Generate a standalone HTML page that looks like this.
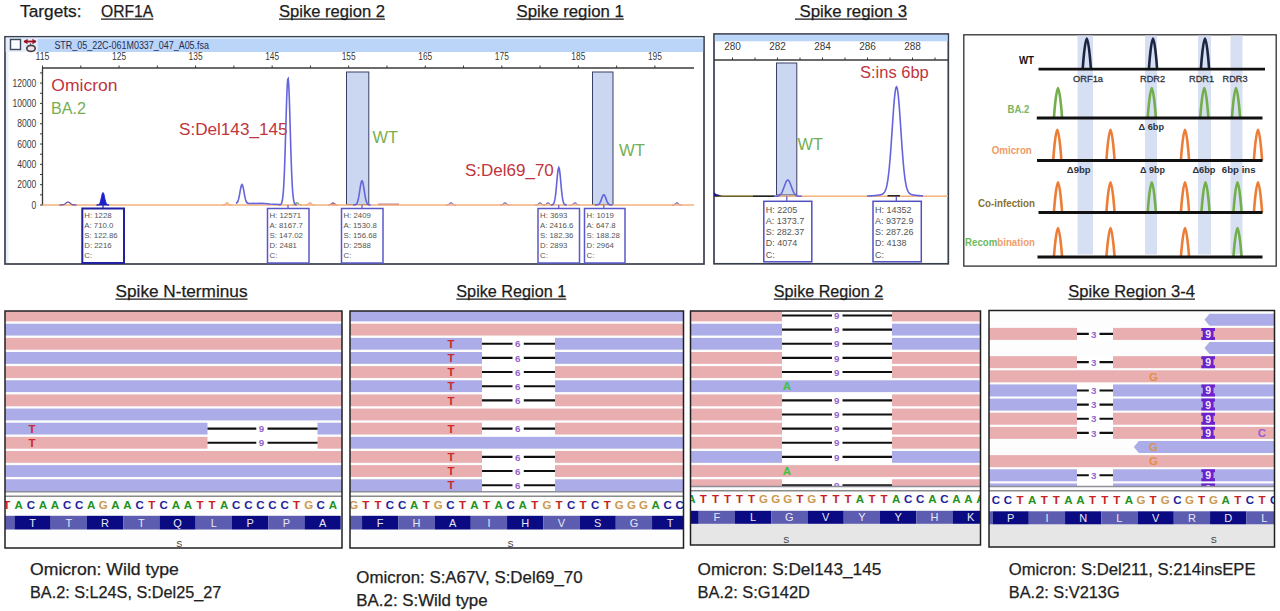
<!DOCTYPE html>
<html><head><meta charset="utf-8"><style>
html,body{margin:0;padding:0;background:#fff;width:1280px;height:611px;overflow:hidden}
svg{display:block;font-family:"Liberation Sans",sans-serif}
</style></head><body>
<svg width="1280" height="611" viewBox="0 0 1280 611">
<text x="20.00" y="17.00" font-size="17.2" fill="#1c1c1c" textLength="61.50" lengthAdjust="spacingAndGlyphs" stroke="#1c1c1c" stroke-width="0.25">Targets:</text>
<text x="101.00" y="17.00" font-size="17.2" fill="#1c1c1c" textLength="52.30" lengthAdjust="spacingAndGlyphs" stroke="#1c1c1c" stroke-width="0.25">ORF1A</text>
<line x1="101.00" y1="19.20" x2="153.30" y2="19.20" stroke="#1c1c1c" stroke-width="1.2"/>
<text x="279.00" y="17.00" font-size="17.2" fill="#1c1c1c" textLength="106.00" lengthAdjust="spacingAndGlyphs" stroke="#1c1c1c" stroke-width="0.25">Spike region 2</text>
<line x1="279.00" y1="19.20" x2="385.00" y2="19.20" stroke="#1c1c1c" stroke-width="1.2"/>
<text x="516.50" y="17.00" font-size="17.2" fill="#1c1c1c" textLength="107.30" lengthAdjust="spacingAndGlyphs" stroke="#1c1c1c" stroke-width="0.25">Spike region 1</text>
<line x1="516.50" y1="19.20" x2="623.80" y2="19.20" stroke="#1c1c1c" stroke-width="1.2"/>
<text x="799.50" y="17.00" font-size="17.2" fill="#1c1c1c" textLength="107.50" lengthAdjust="spacingAndGlyphs" stroke="#1c1c1c" stroke-width="0.25">Spike region 3</text>
<line x1="795.00" y1="19.20" x2="907.00" y2="19.20" stroke="#1c1c1c" stroke-width="1.2"/>
<text x="115.50" y="297.00" font-size="17.2" fill="#1c1c1c" textLength="132.00" lengthAdjust="spacingAndGlyphs" stroke="#1c1c1c" stroke-width="0.25">Spike N-terminus</text>
<line x1="115.50" y1="299.20" x2="247.50" y2="299.20" stroke="#1c1c1c" stroke-width="1.2"/>
<text x="456.30" y="297.00" font-size="17.2" fill="#1c1c1c" textLength="110.00" lengthAdjust="spacingAndGlyphs" stroke="#1c1c1c" stroke-width="0.25">Spike Region 1</text>
<line x1="456.30" y1="299.20" x2="566.30" y2="299.20" stroke="#1c1c1c" stroke-width="1.2"/>
<text x="773.80" y="297.00" font-size="17.2" fill="#1c1c1c" textLength="109.50" lengthAdjust="spacingAndGlyphs" stroke="#1c1c1c" stroke-width="0.25">Spike Region 2</text>
<line x1="773.80" y1="299.20" x2="883.30" y2="299.20" stroke="#1c1c1c" stroke-width="1.2"/>
<text x="1068.30" y="297.00" font-size="17.2" fill="#1c1c1c" textLength="126.70" lengthAdjust="spacingAndGlyphs" stroke="#1c1c1c" stroke-width="0.25">Spike Region 3-4</text>
<line x1="1068.30" y1="299.20" x2="1195.00" y2="299.20" stroke="#1c1c1c" stroke-width="1.2"/>
<text x="30.00" y="575.00" font-size="16.3" fill="#222222" textLength="148.80" lengthAdjust="spacingAndGlyphs" stroke="#222" stroke-width="0.25">Omicron: Wild type</text>
<text x="30.00" y="598.00" font-size="16.3" fill="#222222" textLength="191.30" lengthAdjust="spacingAndGlyphs" stroke="#222" stroke-width="0.25">BA.2: S:L24S, S:Del25_27</text>
<text x="356.30" y="582.50" font-size="16.3" fill="#222222" textLength="226.30" lengthAdjust="spacingAndGlyphs" stroke="#222" stroke-width="0.25">Omicron: S:A67V, S:Del69_70</text>
<text x="356.30" y="605.50" font-size="16.3" fill="#222222" textLength="131.30" lengthAdjust="spacingAndGlyphs" stroke="#222" stroke-width="0.25">BA.2: S:Wild type</text>
<text x="697.50" y="575.00" font-size="16.3" fill="#222222" textLength="183.80" lengthAdjust="spacingAndGlyphs" stroke="#222" stroke-width="0.25">Omicron: S:Del143_145</text>
<text x="697.50" y="598.00" font-size="16.3" fill="#222222" textLength="112.50" lengthAdjust="spacingAndGlyphs" stroke="#222" stroke-width="0.25">BA.2: S:G142D</text>
<text x="1008.80" y="575.00" font-size="16.3" fill="#222222" textLength="246.80" lengthAdjust="spacingAndGlyphs" stroke="#222" stroke-width="0.25">Omicron: S:Del211, S:214insEPE</text>
<text x="1008.80" y="598.00" font-size="16.3" fill="#222222" textLength="110.80" lengthAdjust="spacingAndGlyphs" stroke="#222" stroke-width="0.25">BA.2: S:V213G</text>
<rect x="5.00" y="36.80" width="699.00" height="227.20" fill="#ffffff" stroke="#3a3f4c" stroke-width="1.7"/>
<rect x="6.00" y="52.00" width="2.50" height="211.00" fill="#eaf0fa"/>
<rect x="5.80" y="37.60" width="697.40" height="14.40" fill="#bad5f8"/>
<rect x="5.80" y="37.60" width="697.40" height="1.40" fill="#dce8fb"/>
<rect x="5.80" y="39.00" width="32.00" height="13.00" fill="#e6eefa"/>
<rect x="10.50" y="39.50" width="10.00" height="10.00" fill="#f8fbff" stroke="#3e4a5a" stroke-width="1.4"/>
<path d="M24,41.5 L36,41.5" stroke="#9a1020" stroke-width="1.8"/>
<path d="M23.5,41.5 L27.5,38.8 L27.5,44.2 Z M36.5,41.5 L32.5,38.8 L32.5,44.2 Z" fill="#9a1020"/>
<line x1="30.50" y1="43.00" x2="30.50" y2="45.50" stroke="#8a7070" stroke-width="1"/>
<ellipse cx="31" cy="48.4" rx="4.2" ry="3.0" fill="#f2e4ea" stroke="#454545" stroke-width="1.7"/>
<text x="54.40" y="48.50" font-size="10" fill="#1e2d55" textLength="154.60" lengthAdjust="spacingAndGlyphs">STR_05_22C-061M0337_047_A05.fsa</text>
<line x1="42.50" y1="68.00" x2="694.00" y2="68.00" stroke="#3a3a3a" stroke-width="1.3"/>
<line x1="42.50" y1="65.50" x2="42.50" y2="68.00" stroke="#3a3a3a" stroke-width="1"/>
<line x1="80.78" y1="65.50" x2="80.78" y2="68.00" stroke="#3a3a3a" stroke-width="1"/>
<line x1="119.05" y1="65.50" x2="119.05" y2="68.00" stroke="#3a3a3a" stroke-width="1"/>
<line x1="157.32" y1="65.50" x2="157.32" y2="68.00" stroke="#3a3a3a" stroke-width="1"/>
<line x1="195.60" y1="65.50" x2="195.60" y2="68.00" stroke="#3a3a3a" stroke-width="1"/>
<line x1="233.88" y1="65.50" x2="233.88" y2="68.00" stroke="#3a3a3a" stroke-width="1"/>
<line x1="272.15" y1="65.50" x2="272.15" y2="68.00" stroke="#3a3a3a" stroke-width="1"/>
<line x1="310.43" y1="65.50" x2="310.43" y2="68.00" stroke="#3a3a3a" stroke-width="1"/>
<line x1="348.70" y1="65.50" x2="348.70" y2="68.00" stroke="#3a3a3a" stroke-width="1"/>
<line x1="386.98" y1="65.50" x2="386.98" y2="68.00" stroke="#3a3a3a" stroke-width="1"/>
<line x1="425.25" y1="65.50" x2="425.25" y2="68.00" stroke="#3a3a3a" stroke-width="1"/>
<line x1="463.53" y1="65.50" x2="463.53" y2="68.00" stroke="#3a3a3a" stroke-width="1"/>
<line x1="501.80" y1="65.50" x2="501.80" y2="68.00" stroke="#3a3a3a" stroke-width="1"/>
<line x1="540.08" y1="65.50" x2="540.08" y2="68.00" stroke="#3a3a3a" stroke-width="1"/>
<line x1="578.35" y1="65.50" x2="578.35" y2="68.00" stroke="#3a3a3a" stroke-width="1"/>
<line x1="616.62" y1="65.50" x2="616.62" y2="68.00" stroke="#3a3a3a" stroke-width="1"/>
<line x1="654.90" y1="65.50" x2="654.90" y2="68.00" stroke="#3a3a3a" stroke-width="1"/>
<text x="35.50" y="60.00" font-size="10" fill="#3a3a3a" textLength="14.00" lengthAdjust="spacingAndGlyphs">115</text>
<text x="112.05" y="60.00" font-size="10" fill="#3a3a3a" textLength="14.00" lengthAdjust="spacingAndGlyphs">125</text>
<text x="188.60" y="60.00" font-size="10" fill="#3a3a3a" textLength="14.00" lengthAdjust="spacingAndGlyphs">135</text>
<text x="265.15" y="60.00" font-size="10" fill="#3a3a3a" textLength="14.00" lengthAdjust="spacingAndGlyphs">145</text>
<text x="341.70" y="60.00" font-size="10" fill="#3a3a3a" textLength="14.00" lengthAdjust="spacingAndGlyphs">155</text>
<text x="418.25" y="60.00" font-size="10" fill="#3a3a3a" textLength="14.00" lengthAdjust="spacingAndGlyphs">165</text>
<text x="494.80" y="60.00" font-size="10" fill="#3a3a3a" textLength="14.00" lengthAdjust="spacingAndGlyphs">175</text>
<text x="571.35" y="60.00" font-size="10" fill="#3a3a3a" textLength="14.00" lengthAdjust="spacingAndGlyphs">185</text>
<text x="647.90" y="60.00" font-size="10" fill="#3a3a3a" textLength="14.00" lengthAdjust="spacingAndGlyphs">195</text>
<line x1="42.50" y1="68.00" x2="42.50" y2="205.50" stroke="#3a3a3a" stroke-width="1.3"/>
<line x1="40.00" y1="205.00" x2="42.50" y2="205.00" stroke="#3a3a3a" stroke-width="1"/>
<line x1="40.00" y1="194.84" x2="42.50" y2="194.84" stroke="#3a3a3a" stroke-width="1"/>
<line x1="40.00" y1="184.68" x2="42.50" y2="184.68" stroke="#3a3a3a" stroke-width="1"/>
<line x1="40.00" y1="174.52" x2="42.50" y2="174.52" stroke="#3a3a3a" stroke-width="1"/>
<line x1="40.00" y1="164.36" x2="42.50" y2="164.36" stroke="#3a3a3a" stroke-width="1"/>
<line x1="40.00" y1="154.20" x2="42.50" y2="154.20" stroke="#3a3a3a" stroke-width="1"/>
<line x1="40.00" y1="144.04" x2="42.50" y2="144.04" stroke="#3a3a3a" stroke-width="1"/>
<line x1="40.00" y1="133.88" x2="42.50" y2="133.88" stroke="#3a3a3a" stroke-width="1"/>
<line x1="40.00" y1="123.72" x2="42.50" y2="123.72" stroke="#3a3a3a" stroke-width="1"/>
<line x1="40.00" y1="113.56" x2="42.50" y2="113.56" stroke="#3a3a3a" stroke-width="1"/>
<line x1="40.00" y1="103.40" x2="42.50" y2="103.40" stroke="#3a3a3a" stroke-width="1"/>
<line x1="40.00" y1="93.24" x2="42.50" y2="93.24" stroke="#3a3a3a" stroke-width="1"/>
<line x1="40.00" y1="83.08" x2="42.50" y2="83.08" stroke="#3a3a3a" stroke-width="1"/>
<line x1="40.00" y1="72.92" x2="42.50" y2="72.92" stroke="#3a3a3a" stroke-width="1"/>
<text x="31.55" y="208.70" font-size="10.4" fill="#3a3a3a" textLength="4.75" lengthAdjust="spacingAndGlyphs">0</text>
<text x="17.30" y="188.38" font-size="10.4" fill="#3a3a3a" textLength="19.00" lengthAdjust="spacingAndGlyphs">2000</text>
<text x="17.30" y="168.06" font-size="10.4" fill="#3a3a3a" textLength="19.00" lengthAdjust="spacingAndGlyphs">4000</text>
<text x="17.30" y="147.74" font-size="10.4" fill="#3a3a3a" textLength="19.00" lengthAdjust="spacingAndGlyphs">6000</text>
<text x="17.30" y="127.42" font-size="10.4" fill="#3a3a3a" textLength="19.00" lengthAdjust="spacingAndGlyphs">8000</text>
<text x="12.55" y="107.10" font-size="10.4" fill="#3a3a3a" textLength="23.75" lengthAdjust="spacingAndGlyphs">10000</text>
<text x="12.55" y="86.78" font-size="10.4" fill="#3a3a3a" textLength="23.75" lengthAdjust="spacingAndGlyphs">12000</text>
<text x="51.30" y="91.00" font-size="17.2" fill="#bf3540" textLength="66.20" lengthAdjust="spacingAndGlyphs">Omicron</text>
<text x="51.00" y="114.00" font-size="17.2" fill="#78ae52" textLength="35.00" lengthAdjust="spacingAndGlyphs">BA.2</text>
<text x="179.00" y="135.00" font-size="17.2" fill="#bf3540" textLength="108.50" lengthAdjust="spacingAndGlyphs">S:Del143_145</text>
<text x="372.50" y="143.00" font-size="17.2" fill="#78ae52" textLength="25.50" lengthAdjust="spacingAndGlyphs">WT</text>
<text x="465.00" y="175.50" font-size="17.2" fill="#bf3540" textLength="88.80" lengthAdjust="spacingAndGlyphs">S:Del69_70</text>
<text x="619.00" y="156.00" font-size="17.2" fill="#78ae52" textLength="26.00" lengthAdjust="spacingAndGlyphs">WT</text>
<path d="M221.80,205.00 L222.30,205.00 L222.80,204.99 L223.30,204.96 L223.80,204.89 L224.30,204.75 L224.80,204.47 L225.30,204.06 L225.80,203.56 L226.30,203.10 L226.80,202.83 L227.30,202.86 L227.80,203.18 L228.30,203.67 L228.80,204.16 L229.30,204.54 L229.80,204.78 L230.30,204.91 L230.80,204.97 L231.30,204.99 L231.80,205.00" stroke="#f0a070" stroke-width="1.2" fill="none"/>
<path d="M291.80,205.00 L292.30,205.00 L292.80,204.99 L293.30,204.96 L293.80,204.89 L294.30,204.75 L294.80,204.47 L295.30,204.06 L295.80,203.56 L296.30,203.10 L296.80,202.83 L297.30,202.86 L297.80,203.18 L298.30,203.67 L298.80,204.16 L299.30,204.54 L299.80,204.78 L300.30,204.91 L300.80,204.97 L301.30,204.99 L301.80,205.00" stroke="#6a9a50" stroke-width="1.2" fill="none"/>
<path d="M304.80,205.00 L305.30,205.00 L305.80,204.99 L306.30,204.96 L306.80,204.89 L307.30,204.75 L307.80,204.47 L308.30,204.06 L308.80,203.56 L309.30,203.10 L309.80,202.83 L310.30,202.86 L310.80,203.18 L311.30,203.67 L311.80,204.16 L312.30,204.54 L312.80,204.78 L313.30,204.91 L313.80,204.97 L314.30,204.99 L314.80,205.00" stroke="#f0a070" stroke-width="1.2" fill="none"/>
<path d="M327.80,205.00 L328.30,205.00 L328.80,204.99 L329.30,204.96 L329.80,204.89 L330.30,204.75 L330.80,204.47 L331.30,204.06 L331.80,203.56 L332.30,203.10 L332.80,202.83 L333.30,202.86 L333.80,203.18 L334.30,203.67 L334.80,204.16 L335.30,204.54 L335.80,204.78 L336.30,204.91 L336.80,204.97 L337.30,204.99 L337.80,205.00" stroke="#9a5a8a" stroke-width="1.2" fill="none"/>
<path d="M445.80,205.00 L446.30,205.00 L446.80,204.99 L447.30,204.96 L447.80,204.89 L448.30,204.75 L448.80,204.47 L449.30,204.06 L449.80,203.56 L450.30,203.10 L450.80,202.83 L451.30,202.86 L451.80,203.18 L452.30,203.67 L452.80,204.16 L453.30,204.54 L453.80,204.78 L454.30,204.91 L454.80,204.97 L455.30,204.99 L455.80,205.00" stroke="#8a6ab0" stroke-width="1.2" fill="none"/>
<path d="M499.80,205.00 L500.30,205.00 L500.80,204.99 L501.30,204.96 L501.80,204.89 L502.30,204.75 L502.80,204.47 L503.30,204.06 L503.80,203.56 L504.30,203.10 L504.80,202.83 L505.30,202.86 L505.80,203.18 L506.30,203.67 L506.80,204.16 L507.30,204.54 L507.80,204.78 L508.30,204.91 L508.80,204.97 L509.30,204.99 L509.80,205.00" stroke="#8a6ab0" stroke-width="1.2" fill="none"/>
<path d="M534.80,205.00 L535.30,205.00 L535.80,204.99 L536.30,204.96 L536.80,204.89 L537.30,204.75 L537.80,204.47 L538.30,204.06 L538.80,203.56 L539.30,203.10 L539.80,202.83 L540.30,202.86 L540.80,203.18 L541.30,203.67 L541.80,204.16 L542.30,204.54 L542.80,204.78 L543.30,204.91 L543.80,204.97 L544.30,204.99 L544.80,205.00" stroke="#8a6ab0" stroke-width="1.2" fill="none"/>
<path d="M542.80,205.00 L543.30,205.00 L543.80,204.99 L544.30,204.96 L544.80,204.89 L545.30,204.75 L545.80,204.47 L546.30,204.06 L546.80,203.56 L547.30,203.10 L547.80,202.83 L548.30,202.86 L548.80,203.18 L549.30,203.67 L549.80,204.16 L550.30,204.54 L550.80,204.78 L551.30,204.91 L551.80,204.97 L552.30,204.99 L552.80,205.00" stroke="#8a6ab0" stroke-width="1.2" fill="none"/>
<path d="M569.80,205.00 L570.30,205.00 L570.80,204.99 L571.30,204.96 L571.80,204.89 L572.30,204.75 L572.80,204.47 L573.30,204.06 L573.80,203.56 L574.30,203.10 L574.80,202.83 L575.30,202.86 L575.80,203.18 L576.30,203.67 L576.80,204.16 L577.30,204.54 L577.80,204.78 L578.30,204.91 L578.80,204.97 L579.30,204.99 L579.80,205.00" stroke="#8a6ab0" stroke-width="1.2" fill="none"/>
<path d="M671.80,205.00 L672.30,205.00 L672.80,204.99 L673.30,204.96 L673.80,204.89 L674.30,204.75 L674.80,204.47 L675.30,204.06 L675.80,203.56 L676.30,203.10 L676.80,202.83 L677.30,202.86 L677.80,203.18 L678.30,203.67 L678.80,204.16 L679.30,204.54 L679.80,204.78 L680.30,204.91 L680.80,204.97 L681.30,204.99 L681.80,205.00" stroke="#8a6ab0" stroke-width="1.2" fill="none"/>
<line x1="378.00" y1="204.40" x2="399.00" y2="204.40" stroke="#b06080" stroke-width="1.6"/>
<line x1="331.00" y1="204.40" x2="336.00" y2="204.40" stroke="#b06080" stroke-width="1.6"/>
<rect x="346.50" y="72.00" width="22.30" height="132.50" fill="#cbd7f1" stroke="#3a3f66" stroke-width="1"/>
<rect x="592.50" y="72.00" width="20.50" height="132.50" fill="#cbd7f1" stroke="#3a3f66" stroke-width="1"/>
<line x1="42.50" y1="205.00" x2="694.00" y2="205.00" stroke="#f3b27e" stroke-width="1.6"/>
<path d="M59.20,205.00 L59.70,205.00 L60.20,204.99 L60.70,204.99 L61.20,204.97 L61.70,204.95 L62.20,204.91 L62.70,204.84 L63.20,204.72 L63.70,204.56 L64.20,204.33 L64.70,204.03 L65.20,203.67 L65.70,203.26 L66.20,202.85 L66.70,202.48 L67.20,202.19 L67.70,202.03 L68.20,202.01 L68.70,202.15 L69.20,202.41 L69.70,202.77 L70.20,203.18 L70.70,203.59 L71.20,203.96 L71.70,204.27 L72.20,204.52 L72.70,204.69 L73.20,204.82 L73.70,204.90 L74.20,204.94 L74.70,204.97 L75.20,204.99 L75.70,204.99 L76.20,205.00 L76.70,205.00" stroke="#6a4a9a" stroke-width="1.2" fill="none"/>
<path d="M96.60,205.00 L97.10,204.99 L97.60,204.96 L98.10,204.89 L98.60,204.72 L99.10,204.36 L99.60,203.69 L100.10,202.58 L100.60,200.94 L101.10,198.82 L101.60,196.48 L102.10,194.33 L102.60,192.88 L103.10,192.52 L103.60,193.35 L104.10,195.13 L104.60,197.42 L105.10,199.72 L105.60,201.66 L106.10,203.09 L106.60,204.01 L107.10,204.53 L107.60,204.80 L108.10,204.92 L108.60,204.97 L109.10,204.99 Z" fill="#1c22c8" stroke="#1c22c8" stroke-width="1"/>
<path d="M236.00,203.29 L236.50,203.07 L237.00,202.67 L237.50,201.99 L238.00,200.93 L238.50,199.39 L239.00,197.33 L239.50,194.80 L240.00,191.98 L240.50,189.16 L241.00,186.73 L241.50,185.08 L242.00,184.50 L242.50,185.08 L243.00,186.73 L243.50,189.16 L244.00,191.98 L244.50,194.80 L245.00,197.33 L245.50,199.39 L246.00,200.93 L246.50,201.99 L247.00,202.67 L247.50,203.07 L248.00,203.29 L248.50,203.40 L249.00,203.46 L249.50,203.48 L250.00,203.49 L262,203.3 L270,204 L280,204.5" stroke="#6464dc" stroke-width="1.6" fill="none"/>
<path d="M279.20,204.96 L279.70,204.90 L280.20,204.76 L280.70,204.48 L281.20,203.93 L281.70,202.90 L282.20,201.07 L282.70,198.03 L283.20,193.25 L283.70,186.20 L284.20,176.43 L284.70,163.77 L285.20,148.50 L285.70,131.47 L286.20,114.13 L286.70,98.34 L287.20,86.13 L287.70,79.18 L288.20,78.52 L288.70,84.27 L289.20,95.55 L289.70,110.78 L290.20,127.97 L290.70,145.20 L291.20,160.91 L291.70,174.13 L292.20,184.47 L292.70,192.04 L293.20,197.23 L293.70,200.57 L294.20,202.61 L294.70,203.77 L295.20,204.40 L295.70,204.72 L296.20,204.88 L296.70,204.95" stroke="#6464dc" stroke-width="1.6" fill="none"/>
<path d="M353.20,204.99 L353.70,204.98 L354.20,204.95 L354.70,204.90 L355.20,204.80 L355.70,204.60 L356.20,204.25 L356.70,203.67 L357.20,202.76 L357.70,201.42 L358.20,199.56 L358.70,197.14 L359.20,194.23 L359.70,190.99 L360.20,187.68 L360.70,184.68 L361.20,182.35 L361.70,181.02 L362.20,180.90 L362.70,181.99 L363.20,184.15 L363.70,187.05 L364.20,190.32 L364.70,193.60 L365.20,196.60 L365.70,199.12 L366.20,201.09 L366.70,202.53 L367.20,203.52 L367.70,204.16 L368.20,204.54 L368.70,204.77 L369.20,204.89 L369.70,204.95 L370.20,204.98 L370.70,204.99" stroke="#6464dc" stroke-width="1.6" fill="none"/>
<path d="M550.80,204.99 L551.30,204.97 L551.80,204.92 L552.30,204.81 L552.80,204.58 L553.30,204.15 L553.80,203.35 L554.30,202.02 L554.80,199.92 L555.30,196.89 L555.80,192.83 L556.30,187.83 L556.80,182.26 L557.30,176.69 L557.80,171.91 L558.30,168.65 L558.80,167.50 L559.30,168.65 L559.80,171.91 L560.30,176.69 L560.80,182.26 L561.30,187.83 L561.80,192.83 L562.30,196.89 L562.80,199.92 L563.30,202.02 L563.80,203.35 L564.30,204.15 L564.80,204.58 L565.30,204.81 L565.80,204.92 L566.30,204.97 L566.80,204.99" stroke="#6464dc" stroke-width="1.6" fill="none"/>
<path d="M595.00,205.00 L595.50,204.99 L596.00,204.98 L596.50,204.96 L597.00,204.91 L597.50,204.83 L598.00,204.68 L598.50,204.43 L599.00,204.05 L599.50,203.47 L600.00,202.68 L600.50,201.66 L601.00,200.42 L601.50,199.04 L602.00,197.63 L602.50,196.35 L603.00,195.36 L603.50,194.80 L604.00,194.74 L604.50,195.21 L605.00,196.12 L605.50,197.36 L606.00,198.75 L606.50,200.15 L607.00,201.42 L607.50,202.50 L608.00,203.33 L608.50,203.95 L609.00,204.37 L609.50,204.64 L610.00,204.81 L610.50,204.90 L611.00,204.95 L611.50,204.98 L612.00,204.99 L612.50,205.00" stroke="#6464dc" stroke-width="1.6" fill="none"/>
<line x1="103.00" y1="205.00" x2="103.00" y2="208.50" stroke="#2222a0" stroke-width="1.2"/>
<rect x="82.30" y="208.50" width="41.70" height="54.50" fill="#ffffff" stroke="#2222a0" stroke-width="2.0"/>
<text x="84.30" y="218.00" font-size="7.8" fill="#555555">H:  1228</text>
<text x="84.30" y="228.00" font-size="7.8" fill="#555555">A:  710.0</text>
<text x="84.30" y="238.00" font-size="7.8" fill="#555555">S:  122.86</text>
<text x="84.30" y="248.00" font-size="7.8" fill="#555555">D:  2216</text>
<text x="84.30" y="258.00" font-size="7.8" fill="#555555">C:</text>
<line x1="288.00" y1="205.00" x2="288.00" y2="208.50" stroke="#5858c8" stroke-width="1.2"/>
<rect x="267.50" y="208.50" width="41.50" height="54.50" fill="#ffffff" stroke="#5858c8" stroke-width="1.5"/>
<text x="269.50" y="218.00" font-size="7.8" fill="#555555">H:  12571</text>
<text x="269.50" y="228.00" font-size="7.8" fill="#555555">A:  8167.7</text>
<text x="269.50" y="238.00" font-size="7.8" fill="#555555">S:  147.02</text>
<text x="269.50" y="248.00" font-size="7.8" fill="#555555">D:  2481</text>
<text x="269.50" y="258.00" font-size="7.8" fill="#555555">C:</text>
<line x1="362.00" y1="205.00" x2="362.00" y2="208.50" stroke="#5858c8" stroke-width="1.2"/>
<rect x="341.50" y="208.50" width="41.50" height="54.50" fill="#ffffff" stroke="#5858c8" stroke-width="1.5"/>
<text x="343.50" y="218.00" font-size="7.8" fill="#555555">H:  2409</text>
<text x="343.50" y="228.00" font-size="7.8" fill="#555555">A:  1530.8</text>
<text x="343.50" y="238.00" font-size="7.8" fill="#555555">S:  156.68</text>
<text x="343.50" y="248.00" font-size="7.8" fill="#555555">D:  2588</text>
<text x="343.50" y="258.00" font-size="7.8" fill="#555555">C:</text>
<line x1="558.80" y1="205.00" x2="558.80" y2="208.50" stroke="#5858c8" stroke-width="1.2"/>
<rect x="538.00" y="208.50" width="41.50" height="54.50" fill="#ffffff" stroke="#5858c8" stroke-width="1.5"/>
<text x="540.00" y="218.00" font-size="7.8" fill="#555555">H:  3693</text>
<text x="540.00" y="228.00" font-size="7.8" fill="#555555">A:  2416.6</text>
<text x="540.00" y="238.00" font-size="7.8" fill="#555555">S:  182.36</text>
<text x="540.00" y="248.00" font-size="7.8" fill="#555555">D:  2893</text>
<text x="540.00" y="258.00" font-size="7.8" fill="#555555">C:</text>
<line x1="603.80" y1="205.00" x2="603.80" y2="208.50" stroke="#5858c8" stroke-width="1.2"/>
<rect x="584.50" y="208.50" width="40.50" height="54.50" fill="#ffffff" stroke="#5858c8" stroke-width="1.5"/>
<text x="586.50" y="218.00" font-size="7.8" fill="#555555">H:  1019</text>
<text x="586.50" y="228.00" font-size="7.8" fill="#555555">A:  647.8</text>
<text x="586.50" y="238.00" font-size="7.8" fill="#555555">S:  188.28</text>
<text x="586.50" y="248.00" font-size="7.8" fill="#555555">D:  2964</text>
<text x="586.50" y="258.00" font-size="7.8" fill="#555555">C:</text>
<rect x="714.00" y="34.00" width="234.30" height="229.80" fill="#ffffff" stroke="#3a3f4c" stroke-width="1.7"/>
<rect x="714.80" y="34.80" width="232.70" height="6.50" fill="#bad5f8"/>
<line x1="714.00" y1="60.00" x2="948.00" y2="60.00" stroke="#3a3a3a" stroke-width="1.3"/>
<line x1="732.50" y1="57.50" x2="732.50" y2="60.00" stroke="#3a3a3a" stroke-width="1"/>
<line x1="755.00" y1="57.50" x2="755.00" y2="60.00" stroke="#3a3a3a" stroke-width="1"/>
<line x1="777.50" y1="57.50" x2="777.50" y2="60.00" stroke="#3a3a3a" stroke-width="1"/>
<line x1="800.00" y1="57.50" x2="800.00" y2="60.00" stroke="#3a3a3a" stroke-width="1"/>
<line x1="822.50" y1="57.50" x2="822.50" y2="60.00" stroke="#3a3a3a" stroke-width="1"/>
<line x1="845.00" y1="57.50" x2="845.00" y2="60.00" stroke="#3a3a3a" stroke-width="1"/>
<line x1="867.50" y1="57.50" x2="867.50" y2="60.00" stroke="#3a3a3a" stroke-width="1"/>
<line x1="890.00" y1="57.50" x2="890.00" y2="60.00" stroke="#3a3a3a" stroke-width="1"/>
<line x1="912.50" y1="57.50" x2="912.50" y2="60.00" stroke="#3a3a3a" stroke-width="1"/>
<line x1="935.00" y1="57.50" x2="935.00" y2="60.00" stroke="#3a3a3a" stroke-width="1"/>
<text x="732.50" y="50.00" font-size="10" fill="#3a3a3a" text-anchor="middle">280</text>
<text x="777.50" y="50.00" font-size="10" fill="#3a3a3a" text-anchor="middle">282</text>
<text x="822.50" y="50.00" font-size="10" fill="#3a3a3a" text-anchor="middle">284</text>
<text x="867.50" y="50.00" font-size="10" fill="#3a3a3a" text-anchor="middle">286</text>
<text x="912.50" y="50.00" font-size="10" fill="#3a3a3a" text-anchor="middle">288</text>
<rect x="776.50" y="63.00" width="20.30" height="132.00" fill="#cbd7f1" stroke="#3a3f66" stroke-width="1"/>
<line x1="714.00" y1="196.30" x2="948.00" y2="196.30" stroke="#f3b27e" stroke-width="1.6"/>
<line x1="714.00" y1="196.20" x2="753.00" y2="196.20" stroke="#6a6428" stroke-width="1.6"/>
<line x1="753.00" y1="196.20" x2="775.00" y2="196.20" stroke="#1a2626" stroke-width="1.6"/>
<path d="M714,192 L716,194 L722,195.5 L714,196.5 Z" fill="#1a1a80"/>
<path d="M773.80,196.29 L774.30,196.29 L774.80,196.28 L775.30,196.27 L775.80,196.25 L776.30,196.23 L776.80,196.18 L777.30,196.12 L777.80,196.02 L778.30,195.89 L778.80,195.70 L779.30,195.45 L779.80,195.10 L780.30,194.66 L780.80,194.09 L781.30,193.39 L781.80,192.55 L782.30,191.56 L782.80,190.42 L783.30,189.17 L783.80,187.82 L784.30,186.41 L784.80,185.01 L785.30,183.67 L785.80,182.46 L786.30,181.43 L786.80,180.65 L787.30,180.17 L787.80,180.00 L788.30,180.17 L788.80,180.65 L789.30,181.43 L789.80,182.46 L790.30,183.67 L790.80,185.01 L791.30,186.41 L791.80,187.82 L792.30,189.17 L792.80,190.42 L793.30,191.56 L793.80,192.55 L794.30,193.39 L794.80,194.09 L795.30,194.66 L795.80,195.10 L796.30,195.45 L796.80,195.70 L797.30,195.89 L797.80,196.02 L798.30,196.12 L798.80,196.18 L799.30,196.23 L799.80,196.25 L800.30,196.27 L800.80,196.28 L801.30,196.29 L801.80,196.29" stroke="#6464dc" stroke-width="1.6" fill="none"/>
<path d="M867.00,196.07 L867.50,196.05 L868.00,196.03 L868.50,196.01 L869.00,195.98 L869.50,195.95 L870.00,195.92 L870.50,195.89 L871.00,195.86 L871.50,195.83 L872.00,195.79 L872.50,195.75 L873.00,195.71 L873.50,195.67 L874.00,195.63 L874.50,195.58 L875.00,195.54 L875.50,195.49 L876.00,195.43 L876.50,195.38 L877.00,195.32 L877.50,195.26 L878.00,195.20 L878.50,195.13 L879.00,195.06 L879.50,194.98 L880.00,194.89 L880.50,194.79 L881.00,194.67 L881.50,194.52 L882.00,194.33 L882.50,194.09 L883.00,193.78 L883.50,193.38 L884.00,192.85 L884.50,192.17 L885.00,191.29 L885.50,190.16 L886.00,188.73 L886.50,186.94 L887.00,184.73 L887.50,182.02 L888.00,178.78 L888.50,174.95 L889.00,170.49 L889.50,165.40 L890.00,159.68 L890.50,153.37 L891.00,146.56 L891.50,139.35 L892.00,131.88 L892.50,124.34 L893.00,116.94 L893.50,109.89 L894.00,103.42 L894.50,97.75 L895.00,93.11 L895.50,89.65 L896.00,87.52 L896.50,86.80 L897.00,87.52 L897.50,89.65 L898.00,93.11 L898.50,97.75 L899.00,103.42 L899.50,109.89 L900.00,116.94 L900.50,124.34 L901.00,131.88 L901.50,139.35 L902.00,146.56 L902.50,153.37 L903.00,159.68 L903.50,165.40 L904.00,170.49 L904.50,174.95 L905.00,178.78 L905.50,182.02 L906.00,184.73 L906.50,186.94 L907.00,188.73 L907.50,190.16 L908.00,191.29 L908.50,192.17 L909.00,192.85 L909.50,193.38 L910.00,193.78 L910.50,194.09 L911.00,194.33 L911.50,194.52 L912.00,194.67 L912.50,194.79 L913.00,194.89 L913.50,194.98 L914.00,195.06 L914.50,195.13 L915.00,195.20 L915.50,195.26 L916.00,195.32 L916.50,195.38 L917.00,195.43 L917.50,195.49 L918.00,195.54 L918.50,195.58 L919.00,195.63 L919.50,195.67 L920.00,195.71 L920.50,195.75 L921.00,195.79 L921.50,195.83 L922.00,195.86 L922.50,195.89 L923.00,195.92" stroke="#6464dc" stroke-width="1.6" fill="none"/>
<line x1="887.50" y1="195.80" x2="900.00" y2="195.80" stroke="#202020" stroke-width="1.5"/>
<text x="797.50" y="150.00" font-size="17.2" fill="#78ae52" textLength="25.50" lengthAdjust="spacingAndGlyphs">WT</text>
<text x="860.00" y="77.50" font-size="17.2" fill="#bf3540" textLength="68.80" lengthAdjust="spacingAndGlyphs">S:ins 6bp</text>
<line x1="786.80" y1="196.30" x2="786.80" y2="201.30" stroke="#5050c0" stroke-width="1.2"/>
<rect x="763.80" y="201.30" width="48.00" height="60.50" fill="#ffffff" stroke="#5050c0" stroke-width="1.5"/>
<text x="765.80" y="212.60" font-size="9.0" fill="#555555">H:  2205</text>
<text x="765.80" y="223.85" font-size="9.0" fill="#555555">A:  1373.7</text>
<text x="765.80" y="235.10" font-size="9.0" fill="#555555">S:  282.37</text>
<text x="765.80" y="246.35" font-size="9.0" fill="#555555">D:  4074</text>
<text x="765.80" y="257.60" font-size="9.0" fill="#555555">C:</text>
<line x1="896.30" y1="196.30" x2="896.30" y2="201.30" stroke="#5050c0" stroke-width="1.2"/>
<rect x="873.00" y="201.30" width="48.30" height="60.50" fill="#ffffff" stroke="#5050c0" stroke-width="1.5"/>
<text x="875.00" y="212.60" font-size="9.0" fill="#555555">H:  14352</text>
<text x="875.00" y="223.85" font-size="9.0" fill="#555555">A:  9372.9</text>
<text x="875.00" y="235.10" font-size="9.0" fill="#555555">S:  287.26</text>
<text x="875.00" y="246.35" font-size="9.0" fill="#555555">D:  4138</text>
<text x="875.00" y="257.60" font-size="9.0" fill="#555555">C:</text>
<rect x="963.80" y="34.80" width="312.40" height="231.30" fill="#ffffff" stroke="#2f2f2f" stroke-width="1.3"/>
<rect x="1077.50" y="35.60" width="15.50" height="218.90" fill="#d7dff2"/>
<rect x="1145.00" y="35.60" width="12.00" height="218.90" fill="#d7dff2"/>
<rect x="1198.00" y="35.60" width="13.00" height="218.90" fill="#d7dff2"/>
<rect x="1230.50" y="35.60" width="12.00" height="218.90" fill="#d7dff2"/>
<path d="M1082.70,69.00 C1083.85,52.50 1085.57,38.50 1086.80,38.50 C1088.03,38.50 1089.75,52.50 1090.90,69.00" stroke="#1b2540" stroke-width="2.6" fill="none"/>
<path d="M1148.90,69.00 C1150.05,52.50 1151.77,38.50 1153.00,38.50 C1154.23,38.50 1155.95,52.50 1157.10,69.00" stroke="#1b2540" stroke-width="2.6" fill="none"/>
<path d="M1200.90,69.00 C1202.05,52.50 1203.77,38.50 1205.00,38.50 C1206.23,38.50 1207.95,52.50 1209.10,69.00" stroke="#1b2540" stroke-width="2.6" fill="none"/>
<line x1="1038.50" y1="69.20" x2="1265.00" y2="69.20" stroke="#111" stroke-width="2.8"/>
<path d="M1053.90,118.00 C1055.05,102.00 1056.77,88.00 1058.00,88.00 C1059.23,88.00 1060.95,102.00 1062.10,118.00" stroke="#72ae4a" stroke-width="2.6" fill="none"/>
<path d="M1147.70,118.00 C1148.85,102.00 1150.57,88.00 1151.80,88.00 C1153.03,88.00 1154.75,102.00 1155.90,118.00" stroke="#72ae4a" stroke-width="2.6" fill="none"/>
<path d="M1200.20,118.00 C1201.35,102.00 1203.07,88.00 1204.30,88.00 C1205.53,88.00 1207.25,102.00 1208.40,118.00" stroke="#72ae4a" stroke-width="2.6" fill="none"/>
<path d="M1231.90,118.00 C1233.05,102.00 1234.77,88.00 1236.00,88.00 C1237.23,88.00 1238.95,102.00 1240.10,118.00" stroke="#72ae4a" stroke-width="2.6" fill="none"/>
<line x1="1036.80" y1="118.00" x2="1262.50" y2="118.00" stroke="#111" stroke-width="2.8"/>
<path d="M1053.20,160.50 C1054.35,143.80 1056.07,129.80 1057.30,129.80 C1058.53,129.80 1060.25,143.80 1061.40,160.50" stroke="#ec7d36" stroke-width="2.6" fill="none"/>
<path d="M1106.40,160.50 C1107.55,143.80 1109.27,129.80 1110.50,129.80 C1111.73,129.80 1113.45,143.80 1114.60,160.50" stroke="#ec7d36" stroke-width="2.6" fill="none"/>
<path d="M1180.90,160.50 C1182.05,143.80 1183.77,129.80 1185.00,129.80 C1186.23,129.80 1187.95,143.80 1189.10,160.50" stroke="#ec7d36" stroke-width="2.6" fill="none"/>
<path d="M1253.90,160.50 C1255.05,143.80 1256.77,129.80 1258.00,129.80 C1259.23,129.80 1260.95,143.80 1262.10,160.50" stroke="#ec7d36" stroke-width="2.6" fill="none"/>
<line x1="1037.00" y1="160.50" x2="1262.50" y2="160.50" stroke="#111" stroke-width="2.8"/>
<path d="M1053.90,212.50 C1055.05,196.30 1056.77,182.30 1058.00,182.30 C1059.23,182.30 1060.95,196.30 1062.10,212.50" stroke="#ec7d36" stroke-width="2.6" fill="none"/>
<path d="M1106.40,212.50 C1107.55,196.30 1109.27,182.30 1110.50,182.30 C1111.73,182.30 1113.45,196.30 1114.60,212.50" stroke="#ec7d36" stroke-width="2.6" fill="none"/>
<path d="M1180.90,212.50 C1182.05,196.30 1183.77,182.30 1185.00,182.30 C1186.23,182.30 1187.95,196.30 1189.10,212.50" stroke="#ec7d36" stroke-width="2.6" fill="none"/>
<path d="M1253.90,212.50 C1255.05,196.30 1256.77,182.30 1258.00,182.30 C1259.23,182.30 1260.95,196.30 1262.10,212.50" stroke="#ec7d36" stroke-width="2.6" fill="none"/>
<path d="M1147.70,212.50 C1148.85,196.30 1150.57,182.30 1151.80,182.30 C1153.03,182.30 1154.75,196.30 1155.90,212.50" stroke="#72ae4a" stroke-width="2.6" fill="none"/>
<path d="M1201.40,212.50 C1202.55,196.30 1204.27,182.30 1205.50,182.30 C1206.73,182.30 1208.45,196.30 1209.60,212.50" stroke="#72ae4a" stroke-width="2.6" fill="none"/>
<path d="M1233.40,212.50 C1234.55,196.30 1236.27,182.30 1237.50,182.30 C1238.73,182.30 1240.45,196.30 1241.60,212.50" stroke="#72ae4a" stroke-width="2.6" fill="none"/>
<line x1="1038.50" y1="212.50" x2="1262.50" y2="212.50" stroke="#111" stroke-width="2.8"/>
<path d="M1053.90,257.00 C1055.05,242.00 1056.77,228.00 1058.00,228.00 C1059.23,228.00 1060.95,242.00 1062.10,257.00" stroke="#ec7d36" stroke-width="2.6" fill="none"/>
<path d="M1106.40,257.00 C1107.55,242.00 1109.27,228.00 1110.50,228.00 C1111.73,228.00 1113.45,242.00 1114.60,257.00" stroke="#ec7d36" stroke-width="2.6" fill="none"/>
<path d="M1180.90,257.00 C1182.05,242.00 1183.77,228.00 1185.00,228.00 C1186.23,228.00 1187.95,242.00 1189.10,257.00" stroke="#ec7d36" stroke-width="2.6" fill="none"/>
<path d="M1233.40,257.00 C1234.55,242.00 1236.27,228.00 1237.50,228.00 C1238.73,228.00 1240.45,242.00 1241.60,257.00" stroke="#72ae4a" stroke-width="2.6" fill="none"/>
<line x1="1037.50" y1="257.00" x2="1262.50" y2="257.00" stroke="#111" stroke-width="2.8"/>
<text x="1019.00" y="63.80" font-size="10" fill="#111" textLength="15.00" lengthAdjust="spacingAndGlyphs" font-weight="bold">WT</text>
<text x="1073.00" y="82.30" font-size="9.8" fill="#2c3340" textLength="30.00" lengthAdjust="spacingAndGlyphs" stroke="#2c3340" stroke-width="0.3">ORF1a</text>
<text x="1140.00" y="82.30" font-size="9.8" fill="#2c3340" textLength="25.00" lengthAdjust="spacingAndGlyphs" stroke="#2c3340" stroke-width="0.3">RDR2</text>
<text x="1189.00" y="82.30" font-size="9.8" fill="#2c3340" textLength="25.00" lengthAdjust="spacingAndGlyphs" stroke="#2c3340" stroke-width="0.3">RDR1</text>
<text x="1222.50" y="82.30" font-size="9.8" fill="#2c3340" textLength="25.00" lengthAdjust="spacingAndGlyphs" stroke="#2c3340" stroke-width="0.3">RDR3</text>
<text x="1007.50" y="113.00" font-size="10" fill="#7db462" textLength="21.80" lengthAdjust="spacingAndGlyphs" font-weight="bold">BA.2</text>
<text x="1138.50" y="130.00" font-size="9.5" fill="#2c3340" textLength="25.50" lengthAdjust="spacingAndGlyphs" font-weight="bold">Δ 6bp</text>
<text x="991.80" y="153.80" font-size="10" fill="#ee9a6a" textLength="40.00" lengthAdjust="spacingAndGlyphs" font-weight="bold">Omicron</text>
<text x="1066.80" y="172.50" font-size="9.5" fill="#2c3340" textLength="23.80" lengthAdjust="spacingAndGlyphs" font-weight="bold">Δ9bp</text>
<text x="1140.00" y="172.50" font-size="9.5" fill="#2c3340" textLength="25.00" lengthAdjust="spacingAndGlyphs" font-weight="bold">Δ 9bp</text>
<text x="1192.50" y="172.50" font-size="9.5" fill="#2c3340" textLength="23.00" lengthAdjust="spacingAndGlyphs" font-weight="bold">Δ6bp</text>
<text x="1221.80" y="172.50" font-size="9.5" fill="#2c3340" textLength="33.80" lengthAdjust="spacingAndGlyphs" font-weight="bold">6bp ins</text>
<text x="978.00" y="206.50" font-size="10.4" fill="#8a7030" textLength="57.00" lengthAdjust="spacingAndGlyphs" font-weight="bold">Co-infection</text>
<text x="965" y="245.5" font-size="10" font-weight="bold" textLength="70" lengthAdjust="spacingAndGlyphs"><tspan fill="#6cba5a">Recom</tspan><tspan fill="#eea06a">bination</tspan></text>
<clipPath id="clip5"><rect x="5" y="311" width="337" height="237"/></clipPath>
<g clip-path="url(#clip5)">
<rect x="5.00" y="311.00" width="337.00" height="237.00" fill="#fdfdfd"/>
<clipPath id="clip5r"><rect x="5" y="311" width="337" height="180.5"/></clipPath>
<g clip-path="url(#clip5r)">
<rect x="5.00" y="309.60" width="337.00" height="11.80" fill="#e9aeb0"/>
<rect x="5.00" y="323.74" width="337.00" height="11.80" fill="#acace8"/>
<rect x="5.00" y="337.88" width="337.00" height="11.80" fill="#e9aeb0"/>
<rect x="5.00" y="352.02" width="337.00" height="11.80" fill="#acace8"/>
<rect x="5.00" y="366.16" width="337.00" height="11.80" fill="#e9aeb0"/>
<rect x="5.00" y="380.30" width="337.00" height="11.80" fill="#acace8"/>
<rect x="5.00" y="394.44" width="337.00" height="11.80" fill="#e9aeb0"/>
<rect x="5.00" y="408.58" width="337.00" height="11.80" fill="#acace8"/>
<rect x="5.00" y="422.72" width="337.00" height="11.80" fill="#acace8"/>
<rect x="207.50" y="421.72" width="110.00" height="13.80" fill="#ffffff"/>
<line x1="207.50" y1="428.62" x2="256.30" y2="428.62" stroke="#111" stroke-width="2.1"/>
<line x1="267.50" y1="428.62" x2="317.50" y2="428.62" stroke="#111" stroke-width="2.1"/>
<text x="261.40" y="432.32" font-size="9.8" fill="#9462cc" font-weight="bold" text-anchor="middle">9</text>
<text x="32.00" y="432.82" font-size="11.5" fill="#cc2a2a" font-weight="bold" text-anchor="middle">T</text>
<rect x="5.00" y="436.86" width="337.00" height="11.80" fill="#e9aeb0"/>
<rect x="207.50" y="435.86" width="110.00" height="13.80" fill="#ffffff"/>
<line x1="207.50" y1="442.76" x2="256.30" y2="442.76" stroke="#111" stroke-width="2.1"/>
<line x1="267.50" y1="442.76" x2="317.50" y2="442.76" stroke="#111" stroke-width="2.1"/>
<text x="261.40" y="446.46" font-size="9.8" fill="#9462cc" font-weight="bold" text-anchor="middle">9</text>
<text x="32.00" y="446.96" font-size="11.5" fill="#cc2a2a" font-weight="bold" text-anchor="middle">T</text>
<rect x="5.00" y="451.00" width="337.00" height="11.80" fill="#e9aeb0"/>
<rect x="5.00" y="465.14" width="337.00" height="11.80" fill="#acace8"/>
<rect x="5.00" y="479.28" width="337.00" height="11.80" fill="#acace8"/>
</g>
<line x1="5.00" y1="491.70" x2="342.00" y2="491.70" stroke="#8e8e9a" stroke-width="1.4"/>
<line x1="5.00" y1="496.30" x2="342.00" y2="496.30" stroke="#8a8a8a" stroke-width="1.4"/>
<text x="6.70" y="508.60" font-size="11.5" fill="#c42222" font-weight="bold" text-anchor="middle">T</text>
<text x="18.78" y="508.60" font-size="11.5" fill="#1e921e" font-weight="bold" text-anchor="middle">A</text>
<text x="30.86" y="508.60" font-size="11.5" fill="#22229a" font-weight="bold" text-anchor="middle">C</text>
<text x="42.94" y="508.60" font-size="11.5" fill="#1e921e" font-weight="bold" text-anchor="middle">A</text>
<text x="55.02" y="508.60" font-size="11.5" fill="#1e921e" font-weight="bold" text-anchor="middle">A</text>
<text x="67.10" y="508.60" font-size="11.5" fill="#22229a" font-weight="bold" text-anchor="middle">C</text>
<text x="79.18" y="508.60" font-size="11.5" fill="#22229a" font-weight="bold" text-anchor="middle">C</text>
<text x="91.26" y="508.60" font-size="11.5" fill="#1e921e" font-weight="bold" text-anchor="middle">A</text>
<text x="103.34" y="508.60" font-size="11.5" fill="#cc9a50" font-weight="bold" text-anchor="middle">G</text>
<text x="115.42" y="508.60" font-size="11.5" fill="#1e921e" font-weight="bold" text-anchor="middle">A</text>
<text x="127.50" y="508.60" font-size="11.5" fill="#1e921e" font-weight="bold" text-anchor="middle">A</text>
<text x="139.58" y="508.60" font-size="11.5" fill="#22229a" font-weight="bold" text-anchor="middle">C</text>
<text x="151.66" y="508.60" font-size="11.5" fill="#c42222" font-weight="bold" text-anchor="middle">T</text>
<text x="163.74" y="508.60" font-size="11.5" fill="#22229a" font-weight="bold" text-anchor="middle">C</text>
<text x="175.82" y="508.60" font-size="11.5" fill="#1e921e" font-weight="bold" text-anchor="middle">A</text>
<text x="187.90" y="508.60" font-size="11.5" fill="#1e921e" font-weight="bold" text-anchor="middle">A</text>
<text x="199.98" y="508.60" font-size="11.5" fill="#c42222" font-weight="bold" text-anchor="middle">T</text>
<text x="212.06" y="508.60" font-size="11.5" fill="#c42222" font-weight="bold" text-anchor="middle">T</text>
<text x="224.14" y="508.60" font-size="11.5" fill="#1e921e" font-weight="bold" text-anchor="middle">A</text>
<text x="236.22" y="508.60" font-size="11.5" fill="#22229a" font-weight="bold" text-anchor="middle">C</text>
<text x="248.30" y="508.60" font-size="11.5" fill="#22229a" font-weight="bold" text-anchor="middle">C</text>
<text x="260.38" y="508.60" font-size="11.5" fill="#22229a" font-weight="bold" text-anchor="middle">C</text>
<text x="272.46" y="508.60" font-size="11.5" fill="#22229a" font-weight="bold" text-anchor="middle">C</text>
<text x="284.54" y="508.60" font-size="11.5" fill="#22229a" font-weight="bold" text-anchor="middle">C</text>
<text x="296.62" y="508.60" font-size="11.5" fill="#c42222" font-weight="bold" text-anchor="middle">T</text>
<text x="308.70" y="508.60" font-size="11.5" fill="#cc9a50" font-weight="bold" text-anchor="middle">G</text>
<text x="320.78" y="508.60" font-size="11.5" fill="#22229a" font-weight="bold" text-anchor="middle">C</text>
<text x="332.86" y="508.60" font-size="11.5" fill="#1e921e" font-weight="bold" text-anchor="middle">A</text>
<rect x="-21.80" y="515.80" width="36.25" height="13.70" fill="#5c5cb0"/>
<rect x="14.45" y="515.80" width="36.25" height="13.70" fill="#0a0a82"/>
<text x="32.58" y="526.70" font-size="11" fill="#e8e8f4" text-anchor="middle">T</text>
<rect x="50.70" y="515.80" width="36.25" height="13.70" fill="#5c5cb0"/>
<text x="68.83" y="526.70" font-size="11" fill="#e8e8f4" text-anchor="middle">T</text>
<rect x="86.95" y="515.80" width="36.25" height="13.70" fill="#0a0a82"/>
<text x="105.08" y="526.70" font-size="11" fill="#e8e8f4" text-anchor="middle">R</text>
<rect x="123.20" y="515.80" width="36.25" height="13.70" fill="#5c5cb0"/>
<text x="141.32" y="526.70" font-size="11" fill="#e8e8f4" text-anchor="middle">T</text>
<rect x="159.45" y="515.80" width="36.25" height="13.70" fill="#0a0a82"/>
<text x="177.57" y="526.70" font-size="11" fill="#e8e8f4" text-anchor="middle">Q</text>
<rect x="195.70" y="515.80" width="36.25" height="13.70" fill="#5c5cb0"/>
<text x="213.82" y="526.70" font-size="11" fill="#e8e8f4" text-anchor="middle">L</text>
<rect x="231.95" y="515.80" width="36.25" height="13.70" fill="#0a0a82"/>
<text x="250.07" y="526.70" font-size="11" fill="#e8e8f4" text-anchor="middle">P</text>
<rect x="268.20" y="515.80" width="36.25" height="13.70" fill="#5c5cb0"/>
<text x="286.32" y="526.70" font-size="11" fill="#e8e8f4" text-anchor="middle">P</text>
<rect x="304.45" y="515.80" width="36.25" height="13.70" fill="#0a0a82"/>
<text x="322.57" y="526.70" font-size="11" fill="#e8e8f4" text-anchor="middle">A</text>
<text x="179.30" y="547.00" font-size="9" fill="#333" text-anchor="middle">S</text>
</g>
<rect x="5.00" y="311.00" width="337.00" height="237.00" fill="none" stroke="#202020" stroke-width="1.5"/>
<clipPath id="clip350"><rect x="350" y="311" width="333.5" height="237"/></clipPath>
<g clip-path="url(#clip350)">
<rect x="350.00" y="311.00" width="333.50" height="237.00" fill="#fdfdfd"/>
<clipPath id="clip350r"><rect x="350" y="311" width="333.5" height="180.5"/></clipPath>
<g clip-path="url(#clip350r)">
<rect x="350.00" y="309.60" width="334.00" height="11.80" fill="#acace8"/>
<rect x="350.00" y="323.74" width="334.00" height="11.80" fill="#e9aeb0"/>
<rect x="350.00" y="337.88" width="334.00" height="11.80" fill="#acace8"/>
<rect x="482.00" y="336.88" width="73.00" height="13.80" fill="#ffffff"/>
<line x1="482.00" y1="343.78" x2="512.50" y2="343.78" stroke="#111" stroke-width="2.1"/>
<line x1="523.80" y1="343.78" x2="555.00" y2="343.78" stroke="#111" stroke-width="2.1"/>
<text x="517.65" y="347.48" font-size="9.8" fill="#9462cc" font-weight="bold" text-anchor="middle">6</text>
<text x="451.00" y="347.98" font-size="11.5" fill="#cc2a2a" font-weight="bold" text-anchor="middle">T</text>
<rect x="350.00" y="352.02" width="334.00" height="11.80" fill="#acace8"/>
<rect x="482.00" y="351.02" width="73.00" height="13.80" fill="#ffffff"/>
<line x1="482.00" y1="357.92" x2="512.50" y2="357.92" stroke="#111" stroke-width="2.1"/>
<line x1="523.80" y1="357.92" x2="555.00" y2="357.92" stroke="#111" stroke-width="2.1"/>
<text x="517.65" y="361.62" font-size="9.8" fill="#9462cc" font-weight="bold" text-anchor="middle">6</text>
<text x="451.00" y="362.12" font-size="11.5" fill="#cc2a2a" font-weight="bold" text-anchor="middle">T</text>
<rect x="350.00" y="366.16" width="334.00" height="11.80" fill="#e9aeb0"/>
<rect x="482.00" y="365.16" width="73.00" height="13.80" fill="#ffffff"/>
<line x1="482.00" y1="372.06" x2="512.50" y2="372.06" stroke="#111" stroke-width="2.1"/>
<line x1="523.80" y1="372.06" x2="555.00" y2="372.06" stroke="#111" stroke-width="2.1"/>
<text x="517.65" y="375.76" font-size="9.8" fill="#9462cc" font-weight="bold" text-anchor="middle">6</text>
<text x="451.00" y="376.26" font-size="11.5" fill="#cc2a2a" font-weight="bold" text-anchor="middle">T</text>
<rect x="350.00" y="380.30" width="334.00" height="11.80" fill="#acace8"/>
<rect x="482.00" y="379.30" width="73.00" height="13.80" fill="#ffffff"/>
<line x1="482.00" y1="386.20" x2="512.50" y2="386.20" stroke="#111" stroke-width="2.1"/>
<line x1="523.80" y1="386.20" x2="555.00" y2="386.20" stroke="#111" stroke-width="2.1"/>
<text x="517.65" y="389.90" font-size="9.8" fill="#9462cc" font-weight="bold" text-anchor="middle">6</text>
<text x="451.00" y="390.40" font-size="11.5" fill="#cc2a2a" font-weight="bold" text-anchor="middle">T</text>
<rect x="350.00" y="394.44" width="334.00" height="11.80" fill="#e9aeb0"/>
<rect x="482.00" y="393.44" width="73.00" height="13.80" fill="#ffffff"/>
<line x1="482.00" y1="400.34" x2="512.50" y2="400.34" stroke="#111" stroke-width="2.1"/>
<line x1="523.80" y1="400.34" x2="555.00" y2="400.34" stroke="#111" stroke-width="2.1"/>
<text x="517.65" y="404.04" font-size="9.8" fill="#9462cc" font-weight="bold" text-anchor="middle">6</text>
<text x="451.00" y="404.54" font-size="11.5" fill="#cc2a2a" font-weight="bold" text-anchor="middle">T</text>
<rect x="350.00" y="408.58" width="334.00" height="11.80" fill="#e9aeb0"/>
<rect x="350.00" y="422.72" width="334.00" height="11.80" fill="#e9aeb0"/>
<rect x="482.00" y="421.72" width="73.00" height="13.80" fill="#ffffff"/>
<line x1="482.00" y1="428.62" x2="512.50" y2="428.62" stroke="#111" stroke-width="2.1"/>
<line x1="523.80" y1="428.62" x2="555.00" y2="428.62" stroke="#111" stroke-width="2.1"/>
<text x="517.65" y="432.32" font-size="9.8" fill="#9462cc" font-weight="bold" text-anchor="middle">6</text>
<text x="451.00" y="432.82" font-size="11.5" fill="#cc2a2a" font-weight="bold" text-anchor="middle">T</text>
<rect x="350.00" y="436.86" width="334.00" height="11.80" fill="#acace8"/>
<rect x="350.00" y="451.00" width="334.00" height="11.80" fill="#e9aeb0"/>
<rect x="482.00" y="450.00" width="73.00" height="13.80" fill="#ffffff"/>
<line x1="482.00" y1="456.90" x2="512.50" y2="456.90" stroke="#111" stroke-width="2.1"/>
<line x1="523.80" y1="456.90" x2="555.00" y2="456.90" stroke="#111" stroke-width="2.1"/>
<text x="517.65" y="460.60" font-size="9.8" fill="#9462cc" font-weight="bold" text-anchor="middle">6</text>
<text x="451.00" y="461.10" font-size="11.5" fill="#cc2a2a" font-weight="bold" text-anchor="middle">T</text>
<rect x="350.00" y="465.14" width="334.00" height="11.80" fill="#e9aeb0"/>
<rect x="482.00" y="464.14" width="73.00" height="13.80" fill="#ffffff"/>
<line x1="482.00" y1="471.04" x2="512.50" y2="471.04" stroke="#111" stroke-width="2.1"/>
<line x1="523.80" y1="471.04" x2="555.00" y2="471.04" stroke="#111" stroke-width="2.1"/>
<text x="517.65" y="474.74" font-size="9.8" fill="#9462cc" font-weight="bold" text-anchor="middle">6</text>
<text x="451.00" y="475.24" font-size="11.5" fill="#cc2a2a" font-weight="bold" text-anchor="middle">T</text>
<rect x="350.00" y="479.28" width="334.00" height="11.80" fill="#acace8"/>
<rect x="482.00" y="478.28" width="73.00" height="13.80" fill="#ffffff"/>
<line x1="482.00" y1="485.18" x2="512.50" y2="485.18" stroke="#111" stroke-width="2.1"/>
<line x1="523.80" y1="485.18" x2="555.00" y2="485.18" stroke="#111" stroke-width="2.1"/>
<text x="517.65" y="488.88" font-size="9.8" fill="#9462cc" font-weight="bold" text-anchor="middle">6</text>
<text x="451.00" y="489.38" font-size="11.5" fill="#cc2a2a" font-weight="bold" text-anchor="middle">T</text>
</g>
<line x1="350.00" y1="491.70" x2="683.50" y2="491.70" stroke="#8e8e9a" stroke-width="1.4"/>
<line x1="350.00" y1="496.30" x2="683.50" y2="496.30" stroke="#8a8a8a" stroke-width="1.4"/>
<text x="353.80" y="508.60" font-size="11.5" fill="#cc9a50" font-weight="bold" text-anchor="middle">G</text>
<text x="365.87" y="508.60" font-size="11.5" fill="#c42222" font-weight="bold" text-anchor="middle">T</text>
<text x="377.94" y="508.60" font-size="11.5" fill="#c42222" font-weight="bold" text-anchor="middle">T</text>
<text x="390.01" y="508.60" font-size="11.5" fill="#22229a" font-weight="bold" text-anchor="middle">C</text>
<text x="402.08" y="508.60" font-size="11.5" fill="#22229a" font-weight="bold" text-anchor="middle">C</text>
<text x="414.15" y="508.60" font-size="11.5" fill="#1e921e" font-weight="bold" text-anchor="middle">A</text>
<text x="426.22" y="508.60" font-size="11.5" fill="#c42222" font-weight="bold" text-anchor="middle">T</text>
<text x="438.29" y="508.60" font-size="11.5" fill="#cc9a50" font-weight="bold" text-anchor="middle">G</text>
<text x="450.36" y="508.60" font-size="11.5" fill="#22229a" font-weight="bold" text-anchor="middle">C</text>
<text x="462.43" y="508.60" font-size="11.5" fill="#c42222" font-weight="bold" text-anchor="middle">T</text>
<text x="474.50" y="508.60" font-size="11.5" fill="#1e921e" font-weight="bold" text-anchor="middle">A</text>
<text x="486.57" y="508.60" font-size="11.5" fill="#c42222" font-weight="bold" text-anchor="middle">T</text>
<text x="498.64" y="508.60" font-size="11.5" fill="#1e921e" font-weight="bold" text-anchor="middle">A</text>
<text x="510.71" y="508.60" font-size="11.5" fill="#22229a" font-weight="bold" text-anchor="middle">C</text>
<text x="522.78" y="508.60" font-size="11.5" fill="#1e921e" font-weight="bold" text-anchor="middle">A</text>
<text x="534.85" y="508.60" font-size="11.5" fill="#c42222" font-weight="bold" text-anchor="middle">T</text>
<text x="546.92" y="508.60" font-size="11.5" fill="#cc9a50" font-weight="bold" text-anchor="middle">G</text>
<text x="558.99" y="508.60" font-size="11.5" fill="#c42222" font-weight="bold" text-anchor="middle">T</text>
<text x="571.06" y="508.60" font-size="11.5" fill="#22229a" font-weight="bold" text-anchor="middle">C</text>
<text x="583.13" y="508.60" font-size="11.5" fill="#c42222" font-weight="bold" text-anchor="middle">T</text>
<text x="595.20" y="508.60" font-size="11.5" fill="#22229a" font-weight="bold" text-anchor="middle">C</text>
<text x="607.27" y="508.60" font-size="11.5" fill="#c42222" font-weight="bold" text-anchor="middle">T</text>
<text x="619.34" y="508.60" font-size="11.5" fill="#cc9a50" font-weight="bold" text-anchor="middle">G</text>
<text x="631.41" y="508.60" font-size="11.5" fill="#cc9a50" font-weight="bold" text-anchor="middle">G</text>
<text x="643.48" y="508.60" font-size="11.5" fill="#cc9a50" font-weight="bold" text-anchor="middle">G</text>
<text x="655.55" y="508.60" font-size="11.5" fill="#1e921e" font-weight="bold" text-anchor="middle">A</text>
<text x="667.62" y="508.60" font-size="11.5" fill="#22229a" font-weight="bold" text-anchor="middle">C</text>
<text x="679.69" y="508.60" font-size="11.5" fill="#22229a" font-weight="bold" text-anchor="middle">C</text>
<rect x="325.80" y="515.80" width="36.25" height="13.70" fill="#5c5cb0"/>
<rect x="362.05" y="515.80" width="36.25" height="13.70" fill="#0a0a82"/>
<text x="380.18" y="526.70" font-size="11" fill="#e8e8f4" text-anchor="middle">F</text>
<rect x="398.30" y="515.80" width="36.25" height="13.70" fill="#5c5cb0"/>
<text x="416.43" y="526.70" font-size="11" fill="#e8e8f4" text-anchor="middle">H</text>
<rect x="434.55" y="515.80" width="36.25" height="13.70" fill="#0a0a82"/>
<text x="452.68" y="526.70" font-size="11" fill="#e8e8f4" text-anchor="middle">A</text>
<rect x="470.80" y="515.80" width="36.25" height="13.70" fill="#5c5cb0"/>
<text x="488.93" y="526.70" font-size="11" fill="#e8e8f4" text-anchor="middle">I</text>
<rect x="507.05" y="515.80" width="36.25" height="13.70" fill="#0a0a82"/>
<text x="525.17" y="526.70" font-size="11" fill="#e8e8f4" text-anchor="middle">H</text>
<rect x="543.30" y="515.80" width="36.25" height="13.70" fill="#5c5cb0"/>
<text x="561.42" y="526.70" font-size="11" fill="#e8e8f4" text-anchor="middle">V</text>
<rect x="579.55" y="515.80" width="36.25" height="13.70" fill="#0a0a82"/>
<text x="597.67" y="526.70" font-size="11" fill="#e8e8f4" text-anchor="middle">S</text>
<rect x="615.80" y="515.80" width="36.25" height="13.70" fill="#5c5cb0"/>
<text x="633.92" y="526.70" font-size="11" fill="#e8e8f4" text-anchor="middle">G</text>
<rect x="652.05" y="515.80" width="36.25" height="13.70" fill="#0a0a82"/>
<text x="670.17" y="526.70" font-size="11" fill="#e8e8f4" text-anchor="middle">T</text>
<rect x="688.30" y="515.80" width="36.25" height="13.70" fill="#5c5cb0"/>
<text x="706.42" y="526.70" font-size="11" fill="#e8e8f4" text-anchor="middle">T</text>
<text x="510.50" y="547.00" font-size="9" fill="#333" text-anchor="middle">S</text>
</g>
<rect x="350.00" y="311.00" width="333.50" height="237.00" fill="none" stroke="#202020" stroke-width="1.5"/>
<clipPath id="clip690"><rect x="690.5" y="311" width="290.0" height="234"/></clipPath>
<g clip-path="url(#clip690)">
<rect x="690.50" y="311.00" width="290.00" height="234.00" fill="#fdfdfd"/>
<rect x="690.50" y="523.80" width="290.00" height="21.20" fill="#e6e6e6"/>
<clipPath id="clip690r"><rect x="690.5" y="311" width="290.0" height="175.3"/></clipPath>
<g clip-path="url(#clip690r)">
<rect x="690.00" y="309.60" width="291.00" height="11.80" fill="#e9aeb0"/>
<rect x="782.00" y="308.60" width="110.00" height="13.80" fill="#ffffff"/>
<line x1="782.00" y1="315.50" x2="832.00" y2="315.50" stroke="#111" stroke-width="2.1"/>
<line x1="842.50" y1="315.50" x2="892.00" y2="315.50" stroke="#111" stroke-width="2.1"/>
<text x="836.75" y="319.20" font-size="9.8" fill="#9462cc" font-weight="bold" text-anchor="middle">9</text>
<rect x="690.00" y="323.74" width="291.00" height="11.80" fill="#acace8"/>
<rect x="782.00" y="322.74" width="110.00" height="13.80" fill="#ffffff"/>
<line x1="782.00" y1="329.64" x2="832.00" y2="329.64" stroke="#111" stroke-width="2.1"/>
<line x1="842.50" y1="329.64" x2="892.00" y2="329.64" stroke="#111" stroke-width="2.1"/>
<text x="836.75" y="333.34" font-size="9.8" fill="#9462cc" font-weight="bold" text-anchor="middle">9</text>
<rect x="690.00" y="337.88" width="291.00" height="11.80" fill="#acace8"/>
<rect x="782.00" y="336.88" width="110.00" height="13.80" fill="#ffffff"/>
<line x1="782.00" y1="343.78" x2="832.00" y2="343.78" stroke="#111" stroke-width="2.1"/>
<line x1="842.50" y1="343.78" x2="892.00" y2="343.78" stroke="#111" stroke-width="2.1"/>
<text x="836.75" y="347.48" font-size="9.8" fill="#9462cc" font-weight="bold" text-anchor="middle">9</text>
<rect x="690.00" y="352.02" width="291.00" height="11.80" fill="#e9aeb0"/>
<rect x="782.00" y="351.02" width="110.00" height="13.80" fill="#ffffff"/>
<line x1="782.00" y1="357.92" x2="832.00" y2="357.92" stroke="#111" stroke-width="2.1"/>
<line x1="842.50" y1="357.92" x2="892.00" y2="357.92" stroke="#111" stroke-width="2.1"/>
<text x="836.75" y="361.62" font-size="9.8" fill="#9462cc" font-weight="bold" text-anchor="middle">9</text>
<rect x="690.00" y="366.16" width="291.00" height="11.80" fill="#e9aeb0"/>
<rect x="782.00" y="365.16" width="110.00" height="13.80" fill="#ffffff"/>
<line x1="782.00" y1="372.06" x2="832.00" y2="372.06" stroke="#111" stroke-width="2.1"/>
<line x1="842.50" y1="372.06" x2="892.00" y2="372.06" stroke="#111" stroke-width="2.1"/>
<text x="836.75" y="375.76" font-size="9.8" fill="#9462cc" font-weight="bold" text-anchor="middle">9</text>
<rect x="690.00" y="380.30" width="291.00" height="11.80" fill="#acace8"/>
<text x="787.00" y="390.40" font-size="11.5" fill="#3cc43c" font-weight="bold" text-anchor="middle">A</text>
<rect x="690.00" y="394.44" width="291.00" height="11.80" fill="#e9aeb0"/>
<rect x="782.00" y="393.44" width="110.00" height="13.80" fill="#ffffff"/>
<line x1="782.00" y1="400.34" x2="832.00" y2="400.34" stroke="#111" stroke-width="2.1"/>
<line x1="842.50" y1="400.34" x2="892.00" y2="400.34" stroke="#111" stroke-width="2.1"/>
<text x="836.75" y="404.04" font-size="9.8" fill="#9462cc" font-weight="bold" text-anchor="middle">9</text>
<rect x="690.00" y="408.58" width="291.00" height="11.80" fill="#e9aeb0"/>
<rect x="782.00" y="407.58" width="110.00" height="13.80" fill="#ffffff"/>
<line x1="782.00" y1="414.48" x2="832.00" y2="414.48" stroke="#111" stroke-width="2.1"/>
<line x1="842.50" y1="414.48" x2="892.00" y2="414.48" stroke="#111" stroke-width="2.1"/>
<text x="836.75" y="418.18" font-size="9.8" fill="#9462cc" font-weight="bold" text-anchor="middle">9</text>
<rect x="690.00" y="422.72" width="291.00" height="11.80" fill="#e9aeb0"/>
<rect x="782.00" y="421.72" width="110.00" height="13.80" fill="#ffffff"/>
<line x1="782.00" y1="428.62" x2="832.00" y2="428.62" stroke="#111" stroke-width="2.1"/>
<line x1="842.50" y1="428.62" x2="892.00" y2="428.62" stroke="#111" stroke-width="2.1"/>
<text x="836.75" y="432.32" font-size="9.8" fill="#9462cc" font-weight="bold" text-anchor="middle">9</text>
<rect x="690.00" y="436.86" width="291.00" height="11.80" fill="#e9aeb0"/>
<rect x="782.00" y="435.86" width="110.00" height="13.80" fill="#ffffff"/>
<line x1="782.00" y1="442.76" x2="832.00" y2="442.76" stroke="#111" stroke-width="2.1"/>
<line x1="842.50" y1="442.76" x2="892.00" y2="442.76" stroke="#111" stroke-width="2.1"/>
<text x="836.75" y="446.46" font-size="9.8" fill="#9462cc" font-weight="bold" text-anchor="middle">9</text>
<rect x="690.00" y="451.00" width="291.00" height="11.80" fill="#acace8"/>
<rect x="782.00" y="450.00" width="110.00" height="13.80" fill="#ffffff"/>
<line x1="782.00" y1="456.90" x2="832.00" y2="456.90" stroke="#111" stroke-width="2.1"/>
<line x1="842.50" y1="456.90" x2="892.00" y2="456.90" stroke="#111" stroke-width="2.1"/>
<text x="836.75" y="460.60" font-size="9.8" fill="#9462cc" font-weight="bold" text-anchor="middle">9</text>
<rect x="690.00" y="465.14" width="291.00" height="11.80" fill="#e9aeb0"/>
<text x="787.00" y="475.24" font-size="11.5" fill="#3cc43c" font-weight="bold" text-anchor="middle">A</text>
<rect x="690.00" y="479.28" width="291.00" height="11.80" fill="#e9aeb0"/>
<rect x="782.00" y="478.28" width="110.00" height="13.80" fill="#ffffff"/>
<line x1="782.00" y1="485.18" x2="832.00" y2="485.18" stroke="#111" stroke-width="2.1"/>
<line x1="842.50" y1="485.18" x2="892.00" y2="485.18" stroke="#111" stroke-width="2.1"/>
<text x="836.75" y="488.88" font-size="9.8" fill="#9462cc" font-weight="bold" text-anchor="middle">9</text>
</g>
<line x1="690.50" y1="486.50" x2="980.50" y2="486.50" stroke="#8e8e9a" stroke-width="1.4"/>
<line x1="690.50" y1="490.75" x2="980.50" y2="490.75" stroke="#8a8a8a" stroke-width="1.4"/>
<text x="691.30" y="503.30" font-size="11.5" fill="#1e921e" font-weight="bold" text-anchor="middle">A</text>
<text x="703.35" y="503.30" font-size="11.5" fill="#c42222" font-weight="bold" text-anchor="middle">T</text>
<text x="715.40" y="503.30" font-size="11.5" fill="#c42222" font-weight="bold" text-anchor="middle">T</text>
<text x="727.45" y="503.30" font-size="11.5" fill="#c42222" font-weight="bold" text-anchor="middle">T</text>
<text x="739.50" y="503.30" font-size="11.5" fill="#c42222" font-weight="bold" text-anchor="middle">T</text>
<text x="751.55" y="503.30" font-size="11.5" fill="#c42222" font-weight="bold" text-anchor="middle">T</text>
<text x="763.60" y="503.30" font-size="11.5" fill="#cc9a50" font-weight="bold" text-anchor="middle">G</text>
<text x="775.65" y="503.30" font-size="11.5" fill="#cc9a50" font-weight="bold" text-anchor="middle">G</text>
<text x="787.70" y="503.30" font-size="11.5" fill="#cc9a50" font-weight="bold" text-anchor="middle">G</text>
<text x="799.75" y="503.30" font-size="11.5" fill="#c42222" font-weight="bold" text-anchor="middle">T</text>
<text x="811.80" y="503.30" font-size="11.5" fill="#cc9a50" font-weight="bold" text-anchor="middle">G</text>
<text x="823.85" y="503.30" font-size="11.5" fill="#c42222" font-weight="bold" text-anchor="middle">T</text>
<text x="835.90" y="503.30" font-size="11.5" fill="#c42222" font-weight="bold" text-anchor="middle">T</text>
<text x="847.95" y="503.30" font-size="11.5" fill="#c42222" font-weight="bold" text-anchor="middle">T</text>
<text x="860.00" y="503.30" font-size="11.5" fill="#1e921e" font-weight="bold" text-anchor="middle">A</text>
<text x="872.05" y="503.30" font-size="11.5" fill="#c42222" font-weight="bold" text-anchor="middle">T</text>
<text x="884.10" y="503.30" font-size="11.5" fill="#c42222" font-weight="bold" text-anchor="middle">T</text>
<text x="896.15" y="503.30" font-size="11.5" fill="#1e921e" font-weight="bold" text-anchor="middle">A</text>
<text x="908.20" y="503.30" font-size="11.5" fill="#22229a" font-weight="bold" text-anchor="middle">C</text>
<text x="920.25" y="503.30" font-size="11.5" fill="#22229a" font-weight="bold" text-anchor="middle">C</text>
<text x="932.30" y="503.30" font-size="11.5" fill="#1e921e" font-weight="bold" text-anchor="middle">A</text>
<text x="944.35" y="503.30" font-size="11.5" fill="#22229a" font-weight="bold" text-anchor="middle">C</text>
<text x="956.40" y="503.30" font-size="11.5" fill="#1e921e" font-weight="bold" text-anchor="middle">A</text>
<text x="968.45" y="503.30" font-size="11.5" fill="#1e921e" font-weight="bold" text-anchor="middle">A</text>
<text x="980.50" y="503.30" font-size="11.5" fill="#1e921e" font-weight="bold" text-anchor="middle">A</text>
<rect x="662.50" y="510.80" width="36.25" height="13.00" fill="#0a0a82"/>
<rect x="698.75" y="510.80" width="36.25" height="13.00" fill="#5c5cb0"/>
<text x="716.88" y="521.00" font-size="11" fill="#e8e8f4" text-anchor="middle">F</text>
<rect x="735.00" y="510.80" width="36.25" height="13.00" fill="#0a0a82"/>
<text x="753.12" y="521.00" font-size="11" fill="#e8e8f4" text-anchor="middle">L</text>
<rect x="771.25" y="510.80" width="36.25" height="13.00" fill="#5c5cb0"/>
<text x="789.38" y="521.00" font-size="11" fill="#e8e8f4" text-anchor="middle">G</text>
<rect x="807.50" y="510.80" width="36.25" height="13.00" fill="#0a0a82"/>
<text x="825.62" y="521.00" font-size="11" fill="#e8e8f4" text-anchor="middle">V</text>
<rect x="843.75" y="510.80" width="36.25" height="13.00" fill="#5c5cb0"/>
<text x="861.88" y="521.00" font-size="11" fill="#e8e8f4" text-anchor="middle">Y</text>
<rect x="880.00" y="510.80" width="36.25" height="13.00" fill="#0a0a82"/>
<text x="898.12" y="521.00" font-size="11" fill="#e8e8f4" text-anchor="middle">Y</text>
<rect x="916.25" y="510.80" width="36.25" height="13.00" fill="#5c5cb0"/>
<text x="934.38" y="521.00" font-size="11" fill="#e8e8f4" text-anchor="middle">H</text>
<rect x="952.50" y="510.80" width="36.25" height="13.00" fill="#0a0a82"/>
<text x="970.62" y="521.00" font-size="11" fill="#e8e8f4" text-anchor="middle">K</text>
<text x="786.30" y="542.50" font-size="9" fill="#333" text-anchor="middle">S</text>
</g>
<rect x="690.50" y="311.00" width="290.00" height="234.00" fill="none" stroke="#202020" stroke-width="1.5"/>
<clipPath id="clip989"><rect x="989" y="310.5" width="285.5" height="236.5"/></clipPath>
<g clip-path="url(#clip989)">
<rect x="989.00" y="310.50" width="285.50" height="236.50" fill="#fdfdfd"/>
<rect x="989.00" y="524.30" width="285.50" height="22.70" fill="#e6e6e6"/>
<clipPath id="clip989r"><rect x="989" y="310.5" width="285.5" height="175.8"/></clipPath>
<g clip-path="url(#clip989r)">
<path d="M1204.50,319.75 L1209.50,313.75 L1275.00,313.75 L1275.00,325.75 L1209.50,325.75 Z" fill="#acace8"/>
<rect x="989.00" y="327.89" width="286.00" height="12.00" fill="#e9aeb0"/>
<rect x="1077.00" y="326.89" width="36.00" height="14.00" fill="#ffffff"/>
<line x1="1077.00" y1="333.89" x2="1088.80" y2="333.89" stroke="#111" stroke-width="2.1"/>
<line x1="1099.50" y1="333.89" x2="1113.00" y2="333.89" stroke="#111" stroke-width="2.1"/>
<text x="1093.65" y="337.59" font-size="9.8" fill="#9462cc" font-weight="bold" text-anchor="middle">3</text>
<path d="M1201.30,327.89 H1215.00 V330.89 H1213.50 V336.89 H1215.00 V339.89 H1201.30 V336.89 H1202.80 V330.89 H1201.30 Z" fill="#6a22cc"/>
<text x="1208.15" y="337.89" font-size="10.5" fill="#f0e8ff" font-weight="bold" text-anchor="middle">9</text>
<path d="M1204.50,348.03 L1209.50,342.03 L1275.00,342.03 L1275.00,354.03 L1209.50,354.03 Z" fill="#acace8"/>
<rect x="989.00" y="356.17" width="286.00" height="12.00" fill="#e9aeb0"/>
<rect x="1077.00" y="355.17" width="36.00" height="14.00" fill="#ffffff"/>
<line x1="1077.00" y1="362.17" x2="1088.80" y2="362.17" stroke="#111" stroke-width="2.1"/>
<line x1="1099.50" y1="362.17" x2="1113.00" y2="362.17" stroke="#111" stroke-width="2.1"/>
<text x="1093.65" y="365.87" font-size="9.8" fill="#9462cc" font-weight="bold" text-anchor="middle">3</text>
<path d="M1201.30,356.17 H1215.00 V359.17 H1213.50 V365.17 H1215.00 V368.17 H1201.30 V365.17 H1202.80 V359.17 H1201.30 Z" fill="#6a22cc"/>
<text x="1208.15" y="366.17" font-size="10.5" fill="#f0e8ff" font-weight="bold" text-anchor="middle">9</text>
<rect x="989.00" y="370.31" width="286.00" height="12.00" fill="#e9aeb0"/>
<text x="1153.50" y="380.51" font-size="11.5" fill="#e0904a" font-weight="bold" text-anchor="middle">G</text>
<rect x="989.00" y="384.45" width="286.00" height="12.00" fill="#acace8"/>
<rect x="1077.00" y="383.45" width="36.00" height="14.00" fill="#ffffff"/>
<line x1="1077.00" y1="390.45" x2="1088.80" y2="390.45" stroke="#111" stroke-width="2.1"/>
<line x1="1099.50" y1="390.45" x2="1113.00" y2="390.45" stroke="#111" stroke-width="2.1"/>
<text x="1093.65" y="394.15" font-size="9.8" fill="#9462cc" font-weight="bold" text-anchor="middle">3</text>
<path d="M1201.30,384.45 H1215.00 V387.45 H1213.50 V393.45 H1215.00 V396.45 H1201.30 V393.45 H1202.80 V387.45 H1201.30 Z" fill="#6a22cc"/>
<text x="1208.15" y="394.45" font-size="10.5" fill="#f0e8ff" font-weight="bold" text-anchor="middle">9</text>
<rect x="989.00" y="398.59" width="286.00" height="12.00" fill="#acace8"/>
<rect x="1077.00" y="397.59" width="36.00" height="14.00" fill="#ffffff"/>
<line x1="1077.00" y1="404.59" x2="1088.80" y2="404.59" stroke="#111" stroke-width="2.1"/>
<line x1="1099.50" y1="404.59" x2="1113.00" y2="404.59" stroke="#111" stroke-width="2.1"/>
<text x="1093.65" y="408.29" font-size="9.8" fill="#9462cc" font-weight="bold" text-anchor="middle">3</text>
<path d="M1201.30,398.59 H1215.00 V401.59 H1213.50 V407.59 H1215.00 V410.59 H1201.30 V407.59 H1202.80 V401.59 H1201.30 Z" fill="#6a22cc"/>
<text x="1208.15" y="408.59" font-size="10.5" fill="#f0e8ff" font-weight="bold" text-anchor="middle">9</text>
<rect x="989.00" y="412.73" width="286.00" height="12.00" fill="#e9aeb0"/>
<rect x="1077.00" y="411.73" width="36.00" height="14.00" fill="#ffffff"/>
<line x1="1077.00" y1="418.73" x2="1088.80" y2="418.73" stroke="#111" stroke-width="2.1"/>
<line x1="1099.50" y1="418.73" x2="1113.00" y2="418.73" stroke="#111" stroke-width="2.1"/>
<text x="1093.65" y="422.43" font-size="9.8" fill="#9462cc" font-weight="bold" text-anchor="middle">3</text>
<path d="M1201.30,412.73 H1215.00 V415.73 H1213.50 V421.73 H1215.00 V424.73 H1201.30 V421.73 H1202.80 V415.73 H1201.30 Z" fill="#6a22cc"/>
<text x="1208.15" y="422.73" font-size="10.5" fill="#f0e8ff" font-weight="bold" text-anchor="middle">9</text>
<rect x="989.00" y="426.87" width="286.00" height="12.00" fill="#e9aeb0"/>
<rect x="1077.00" y="425.87" width="36.00" height="14.00" fill="#ffffff"/>
<line x1="1077.00" y1="432.87" x2="1088.80" y2="432.87" stroke="#111" stroke-width="2.1"/>
<line x1="1099.50" y1="432.87" x2="1113.00" y2="432.87" stroke="#111" stroke-width="2.1"/>
<text x="1093.65" y="436.57" font-size="9.8" fill="#9462cc" font-weight="bold" text-anchor="middle">3</text>
<path d="M1201.30,426.87 H1215.00 V429.87 H1213.50 V435.87 H1215.00 V438.87 H1201.30 V435.87 H1202.80 V429.87 H1201.30 Z" fill="#6a22cc"/>
<text x="1208.15" y="436.87" font-size="10.5" fill="#f0e8ff" font-weight="bold" text-anchor="middle">9</text>
<text x="1262.00" y="437.07" font-size="11.5" fill="#9a5ad0" font-weight="bold" text-anchor="middle">C</text>
<path d="M1133.80,447.01 L1138.80,441.01 L1275.00,441.01 L1275.00,453.01 L1138.80,453.01 Z" fill="#acace8"/>
<text x="1153.50" y="451.21" font-size="11.5" fill="#d4955a" font-weight="bold" text-anchor="middle">G</text>
<rect x="989.00" y="455.15" width="286.00" height="12.00" fill="#e9aeb0"/>
<text x="1153.50" y="465.35" font-size="11.5" fill="#e0904a" font-weight="bold" text-anchor="middle">G</text>
<rect x="989.00" y="469.29" width="286.00" height="12.00" fill="#acace8"/>
<rect x="1077.00" y="468.29" width="36.00" height="14.00" fill="#ffffff"/>
<line x1="1077.00" y1="475.29" x2="1088.80" y2="475.29" stroke="#111" stroke-width="2.1"/>
<line x1="1099.50" y1="475.29" x2="1113.00" y2="475.29" stroke="#111" stroke-width="2.1"/>
<text x="1093.65" y="478.99" font-size="9.8" fill="#9462cc" font-weight="bold" text-anchor="middle">3</text>
<path d="M1201.30,469.29 H1215.00 V472.29 H1213.50 V478.29 H1215.00 V481.29 H1201.30 V478.29 H1202.80 V472.29 H1201.30 Z" fill="#6a22cc"/>
<text x="1208.15" y="479.29" font-size="10.5" fill="#f0e8ff" font-weight="bold" text-anchor="middle">9</text>
<rect x="989.00" y="483.43" width="286.00" height="12.00" fill="#acace8"/>
<rect x="1077.00" y="482.43" width="36.00" height="14.00" fill="#ffffff"/>
<line x1="1077.00" y1="489.43" x2="1088.80" y2="489.43" stroke="#111" stroke-width="2.1"/>
<line x1="1099.50" y1="489.43" x2="1113.00" y2="489.43" stroke="#111" stroke-width="2.1"/>
<text x="1093.65" y="493.13" font-size="9.8" fill="#9462cc" font-weight="bold" text-anchor="middle">3</text>
<path d="M1201.30,483.43 H1215.00 V486.43 H1213.50 V492.43 H1215.00 V495.43 H1201.30 V492.43 H1202.80 V486.43 H1201.30 Z" fill="#6a22cc"/>
<text x="1208.15" y="493.43" font-size="10.5" fill="#f0e8ff" font-weight="bold" text-anchor="middle">9</text>
</g>
<line x1="989.00" y1="486.50" x2="1274.50" y2="486.50" stroke="#8e8e9a" stroke-width="1.4"/>
<line x1="989.00" y1="490.75" x2="1274.50" y2="490.75" stroke="#8a8a8a" stroke-width="1.4"/>
<text x="995.80" y="503.50" font-size="11.5" fill="#22229a" font-weight="bold" text-anchor="middle">C</text>
<text x="1007.90" y="503.50" font-size="11.5" fill="#22229a" font-weight="bold" text-anchor="middle">C</text>
<text x="1020.00" y="503.50" font-size="11.5" fill="#c42222" font-weight="bold" text-anchor="middle">T</text>
<text x="1032.10" y="503.50" font-size="11.5" fill="#1e921e" font-weight="bold" text-anchor="middle">A</text>
<text x="1044.20" y="503.50" font-size="11.5" fill="#c42222" font-weight="bold" text-anchor="middle">T</text>
<text x="1056.30" y="503.50" font-size="11.5" fill="#c42222" font-weight="bold" text-anchor="middle">T</text>
<text x="1068.40" y="503.50" font-size="11.5" fill="#1e921e" font-weight="bold" text-anchor="middle">A</text>
<text x="1080.50" y="503.50" font-size="11.5" fill="#1e921e" font-weight="bold" text-anchor="middle">A</text>
<text x="1092.60" y="503.50" font-size="11.5" fill="#c42222" font-weight="bold" text-anchor="middle">T</text>
<text x="1104.70" y="503.50" font-size="11.5" fill="#c42222" font-weight="bold" text-anchor="middle">T</text>
<text x="1116.80" y="503.50" font-size="11.5" fill="#c42222" font-weight="bold" text-anchor="middle">T</text>
<text x="1128.90" y="503.50" font-size="11.5" fill="#1e921e" font-weight="bold" text-anchor="middle">A</text>
<text x="1141.00" y="503.50" font-size="11.5" fill="#cc9a50" font-weight="bold" text-anchor="middle">G</text>
<text x="1153.10" y="503.50" font-size="11.5" fill="#c42222" font-weight="bold" text-anchor="middle">T</text>
<text x="1165.20" y="503.50" font-size="11.5" fill="#cc9a50" font-weight="bold" text-anchor="middle">G</text>
<text x="1177.30" y="503.50" font-size="11.5" fill="#22229a" font-weight="bold" text-anchor="middle">C</text>
<text x="1189.40" y="503.50" font-size="11.5" fill="#cc9a50" font-weight="bold" text-anchor="middle">G</text>
<text x="1201.50" y="503.50" font-size="11.5" fill="#c42222" font-weight="bold" text-anchor="middle">T</text>
<text x="1213.60" y="503.50" font-size="11.5" fill="#cc9a50" font-weight="bold" text-anchor="middle">G</text>
<text x="1225.70" y="503.50" font-size="11.5" fill="#1e921e" font-weight="bold" text-anchor="middle">A</text>
<text x="1237.80" y="503.50" font-size="11.5" fill="#c42222" font-weight="bold" text-anchor="middle">T</text>
<text x="1249.90" y="503.50" font-size="11.5" fill="#22229a" font-weight="bold" text-anchor="middle">C</text>
<text x="1262.00" y="503.50" font-size="11.5" fill="#c42222" font-weight="bold" text-anchor="middle">T</text>
<text x="1274.10" y="503.50" font-size="11.5" fill="#22229a" font-weight="bold" text-anchor="middle">C</text>
<rect x="956.30" y="511.30" width="36.25" height="13.00" fill="#5c5cb0"/>
<rect x="992.55" y="511.30" width="36.25" height="13.00" fill="#0a0a82"/>
<text x="1010.67" y="521.50" font-size="11" fill="#e8e8f4" text-anchor="middle">P</text>
<rect x="1028.80" y="511.30" width="36.25" height="13.00" fill="#5c5cb0"/>
<text x="1046.92" y="521.50" font-size="11" fill="#e8e8f4" text-anchor="middle">I</text>
<rect x="1065.05" y="511.30" width="36.25" height="13.00" fill="#0a0a82"/>
<text x="1083.17" y="521.50" font-size="11" fill="#e8e8f4" text-anchor="middle">N</text>
<rect x="1101.30" y="511.30" width="36.25" height="13.00" fill="#5c5cb0"/>
<text x="1119.42" y="521.50" font-size="11" fill="#e8e8f4" text-anchor="middle">L</text>
<rect x="1137.55" y="511.30" width="36.25" height="13.00" fill="#0a0a82"/>
<text x="1155.67" y="521.50" font-size="11" fill="#e8e8f4" text-anchor="middle">V</text>
<rect x="1173.80" y="511.30" width="36.25" height="13.00" fill="#5c5cb0"/>
<text x="1191.92" y="521.50" font-size="11" fill="#e8e8f4" text-anchor="middle">R</text>
<rect x="1210.05" y="511.30" width="36.25" height="13.00" fill="#0a0a82"/>
<text x="1228.17" y="521.50" font-size="11" fill="#e8e8f4" text-anchor="middle">D</text>
<rect x="1246.30" y="511.30" width="36.25" height="13.00" fill="#5c5cb0"/>
<text x="1264.42" y="521.50" font-size="11" fill="#e8e8f4" text-anchor="middle">L</text>
<text x="1213.80" y="543.00" font-size="9" fill="#333" text-anchor="middle">S</text>
</g>
<rect x="989.00" y="310.50" width="285.50" height="236.50" fill="none" stroke="#202020" stroke-width="1.5"/>
</svg></body></html>
